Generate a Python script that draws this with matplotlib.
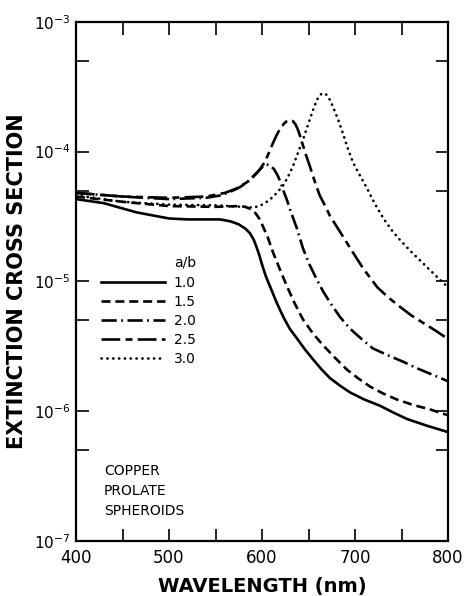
import matplotlib
matplotlib.use("Agg")
import matplotlib.pyplot as plt
from matplotlib.lines import Line2D
from matplotlib.ticker import FixedLocator, NullFormatter

plt.rcParams['font.family'] = ['DejaVu Sans']
plt.rcParams['lines.scale_dashes'] = False

# ---- data ----
wl_10 = [400, 430, 465, 500, 520, 537, 555, 566, 575, 582, 587, 591, 594, 597, 600, 604, 609, 616, 623, 630, 638, 646, 655, 664, 673, 684, 695, 710, 727, 742, 756, 778, 800]
ext_10 = [4.3e-5, 4.0e-5, 3.4e-5, 3.05e-5, 3.0e-5, 3.0e-5, 3.0e-5, 2.9e-5, 2.75e-5, 2.55e-5, 2.35e-5, 2.1e-5, 1.85e-5, 1.6e-5, 1.35e-5, 1.1e-5, 9.0e-6, 6.8e-6, 5.3e-6, 4.3e-6, 3.6e-6, 3.0e-6, 2.5e-6, 2.1e-6, 1.8e-6, 1.57e-6, 1.39e-6, 1.23e-6, 1.1e-6, 9.7e-7, 8.7e-7, 7.7e-7, 6.9e-7]

wl_15 = [400, 450, 500, 550, 565, 575, 582, 588, 593, 597, 600, 606, 612, 620, 627, 635, 644, 655, 666, 678, 691, 703, 716, 730, 745, 762, 781, 800]
ext_15 = [4.5e-5, 4.1e-5, 3.8e-5, 3.75e-5, 3.78e-5, 3.8e-5, 3.75e-5, 3.6e-5, 3.35e-5, 3.05e-5, 2.75e-5, 2.2e-5, 1.66e-5, 1.2e-5, 9.1e-6, 6.8e-6, 5.1e-6, 3.95e-6, 3.2e-6, 2.6e-6, 2.1e-6, 1.8e-6, 1.55e-6, 1.37e-6, 1.23e-6, 1.12e-6, 1.03e-6, 9.3e-7]

wl_20 = [400, 450, 500, 540, 556, 566, 576, 584, 591, 598, 602, 605, 609, 613, 617, 620, 623, 627, 630, 634, 638, 644, 651, 659, 666, 673, 684, 695, 707, 719, 735, 752, 766, 781, 800]
ext_20 = [4.8e-5, 4.5e-5, 4.3e-5, 4.4e-5, 4.6e-5, 4.9e-5, 5.3e-5, 5.8e-5, 6.5e-5, 7.3e-5, 7.8e-5, 7.95e-5, 7.8e-5, 7.3e-5, 6.5e-5, 5.8e-5, 5.0e-5, 4.2e-5, 3.6e-5, 3.0e-5, 2.5e-5, 1.8e-5, 1.35e-5, 1.03e-5, 8.3e-6, 6.9e-6, 5.3e-6, 4.3e-6, 3.6e-6, 3.05e-6, 2.7e-6, 2.4e-6, 2.15e-6, 1.94e-6, 1.7e-6]

wl_25 = [400, 450, 500, 540, 560, 573, 587, 596, 603, 608, 612, 616, 620, 624, 627, 630, 633, 636, 639, 642, 646, 652, 657, 662, 668, 673, 684, 698, 709, 724, 736, 748, 760, 773, 786, 800]
ext_25 = [4.8e-5, 4.5e-5, 4.4e-5, 4.5e-5, 4.8e-5, 5.2e-5, 6.0e-5, 7.0e-5, 8.3e-5, 1.0e-4, 1.17e-4, 1.35e-4, 1.52e-4, 1.65e-4, 1.72e-4, 1.75e-4, 1.72e-4, 1.62e-4, 1.45e-4, 1.25e-4, 1.0e-4, 7.5e-5, 5.8e-5, 4.6e-5, 3.8e-5, 3.2e-5, 2.4e-5, 1.66e-5, 1.25e-5, 9.0e-6, 7.5e-6, 6.4e-6, 5.5e-6, 4.8e-6, 4.2e-6, 3.6e-6]

wl_30 = [400, 450, 500, 550, 580, 590, 597, 603, 609, 616, 623, 628, 633, 638, 644, 650, 655, 659, 663, 666, 669, 673, 677, 682, 687, 692, 698, 705, 713, 721, 730, 739, 748, 760, 773, 786, 800]
ext_30 = [4.6e-5, 4.1e-5, 3.9e-5, 3.85e-5, 3.75e-5, 3.7e-5, 3.8e-5, 4.0e-5, 4.3e-5, 4.8e-5, 5.5e-5, 6.4e-5, 7.6e-5, 9.5e-5, 1.23e-4, 1.65e-4, 2.1e-4, 2.5e-4, 2.75e-4, 2.82e-4, 2.75e-4, 2.5e-4, 2.15e-4, 1.75e-4, 1.38e-4, 1.07e-4, 8.2e-5, 6.6e-5, 5.2e-5, 4.0e-5, 3.1e-5, 2.5e-5, 2.1e-5, 1.7e-5, 1.38e-5, 1.12e-5, 9.0e-6]

ratio_labels = ["1.0", "1.5", "2.0", "2.5", "3.0"]
x_ticks = [400, 500, 600, 700, 800]
y_ticks = [1e-7, 1e-6, 1e-5, 1e-4, 1e-3]
y_tick_labels = [r"$10^{-7}$", r"$10^{-6}$", r"$10^{-5}$", r"$10^{-4}$", r"$10^{-3}$"]
note_lines = ["COPPER", "PROLATE", "SPHEROIDS"]

# ---- figure ----
fig = plt.figure(figsize=(4.67, 5.96), dpi=100)
ax = fig.add_axes([76/467, 55/596, 372/467, 519.3/596])

lw = 1.9
styles = [
    dict(linestyle='-'),
    dict(linestyle=(0, (6.5, 3.5))),
    dict(linestyle=(0, (11.0, 3.2, 1.3, 3.2))),
    dict(linestyle=(0, (13.5, 3.8, 5.0, 3.8))),
    dict(linestyle=(0, (0.2, 4.0)), dash_capstyle='round'),
]
series = [(wl_10, ext_10), (wl_15, ext_15), (wl_20, ext_20), (wl_25, ext_25), (wl_30, ext_30)]
handles = []
for (x, y), st in zip(series, styles):
    ax.plot(x, y, color='black', lw=lw, solid_joinstyle='round', **st)
    handles.append(Line2D([], [], color='black', lw=lw, **st))

ax.set_yscale('log')
ax.set_xlim(400, 800)
ax.set_ylim(1e-7, 1e-3)

ax.xaxis.set_major_locator(FixedLocator(x_ticks))
ax.xaxis.set_minor_locator(FixedLocator([450, 550, 650, 750]))
ax.set_xticklabels([str(v) for v in x_ticks])
ax.yaxis.set_major_locator(FixedLocator(y_ticks))
ax.yaxis.set_minor_locator(FixedLocator([5e-7, 5e-6, 5e-5, 5e-4]))
ax.yaxis.set_minor_formatter(NullFormatter())
ax.set_yticklabels(y_tick_labels)

ax.tick_params(which='both', direction='in', top=True, right=True, length=9, width=1.2, color='black')
ax.tick_params(axis='x', labelsize=12, pad=6)
ax.tick_params(axis='y', labelsize=11, pad=4)
for sp in ax.spines.values():
    sp.set_linewidth(1.6)

ax.set_xlabel("WAVELENGTH (nm)", fontsize=14, fontweight='bold', labelpad=7)
ax.set_ylabel("EXTINCTION CROSS SECTION", fontsize=15, fontweight='bold', labelpad=5)

leg = ax.legend(handles, ratio_labels, loc='upper left', bbox_to_anchor=(0.068, 0.511),
                frameon=False, fontsize=10, handlelength=4.6, handletextpad=0.6,
                labelspacing=0.36, borderpad=0, borderaxespad=0)
ax.text(0.265, 0.522, "a/b", transform=ax.transAxes, fontsize=10, ha='left', va='bottom')

ax.text(0.075, 0.148, "\n".join(note_lines), transform=ax.transAxes, fontsize=10,
        ha='left', va='top', linespacing=1.55)

fig.savefig("out.png", dpi=100)
